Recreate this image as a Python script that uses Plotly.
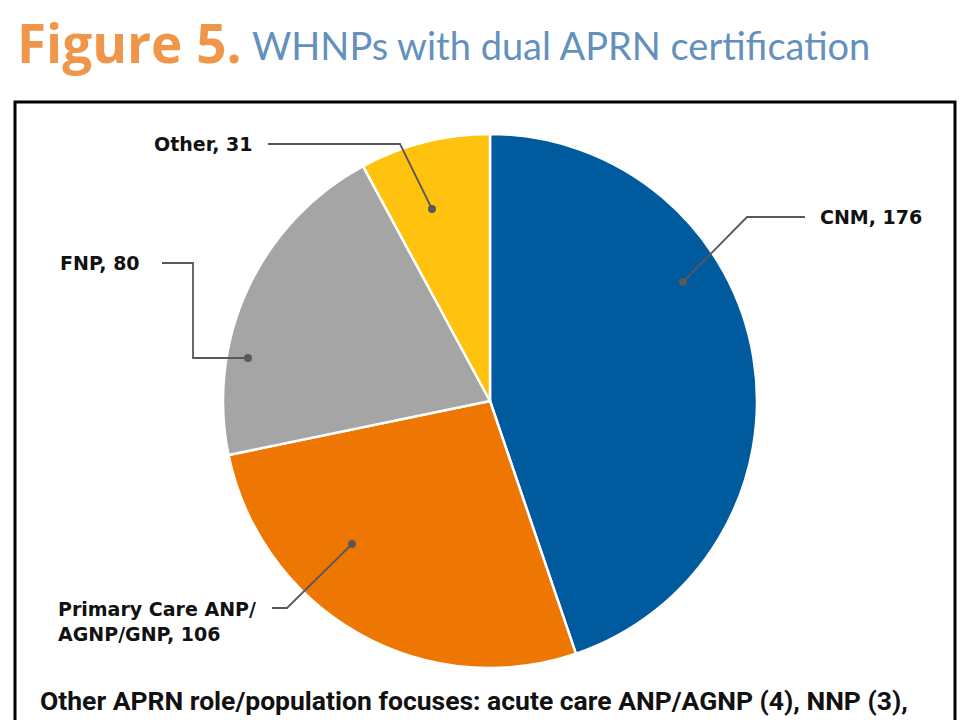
import plotly.graph_objects as go

# ---- data ----
categories = ["CNM", "Primary Care ANP/<br>AGNP/GNP", "FNP", "Other"]
values = [176, 106, 80, 31]
slice_colors = ["#005A9E", "#EE7703", "#A5A5A5", "#FFC20E"]

W, H = 970, 720

def px(x):
    return x / W

def py(y):
    return 1 - y / H

# pie placement (pixels)
cx, cy, r = 490, 401, 267

fig = go.Figure()
fig.add_trace(go.Pie(
    labels=categories, values=values, sort=False, direction="clockwise",
    rotation=0, textinfo="none", hoverinfo="label+value",
    marker=dict(colors=slice_colors, line=dict(color="white", width=2.5)),
    domain=dict(x=[px(cx - r), px(cx + r)], y=[py(cy + r), py(cy - r)]),
    showlegend=False,
))

shapes = []
annotations = []

# framing box
shapes.append(dict(type="rect", xref="paper", yref="paper",
                   x0=px(15), x1=px(955), y0=py(760), y1=py(102),
                   line=dict(color="black", width=3), fillcolor="rgba(0,0,0,0)"))

# leader lines (label layout, pixel polylines) and label text
leaders = [
    (0, [(805, 217), (747, 217), (683, 282)], 818, 217, "left"),
    (1, [(272, 608), (287, 608), (352, 544)], 56, 621, "left"),
    (2, [(162, 263), (193, 263), (193, 358), (248, 358)], 142, 263, "right"),
    (3, [(268, 144), (400, 144), (432, 209)], 255, 144, "right"),
]
lc = "#595959"
for idx, pts, tx, ty, anchor in leaders:
    path = "M " + " L ".join(f"{px(x)},{py(y)}" for x, y in pts)
    shapes.append(dict(type="path", xref="paper", yref="paper", path=path,
                       line=dict(color=lc, width=1.8)))
    dx, dy = pts[-1]
    rr = 4
    shapes.append(dict(type="circle", xref="paper", yref="paper",
                       x0=px(dx - rr), x1=px(dx + rr), y0=py(dy + rr), y1=py(dy - rr),
                       fillcolor=lc, line=dict(color=lc, width=0)))
    annotations.append(dict(
        x=px(tx), y=py(ty), xref="paper", yref="paper",
        text=f"{categories[idx]}, {values[idx]}", showarrow=False,
        xanchor=anchor, yanchor="middle", align="left",
        font=dict(family="DejaVu Sans", size=19, color="#111111", weight="bold"),
    ))

# title
annotations.append(dict(
    x=px(15), y=py(42), xref="paper", yref="paper", xanchor="left", yanchor="middle",
    showarrow=False,
    text="<b>Figure 5.</b>",
    font=dict(family="Open Sans", size=53, color="#F0964A"),
))
annotations.append(dict(
    x=px(250), y=py(45), xref="paper", yref="paper", xanchor="left", yanchor="middle",
    showarrow=False,
    text="WHNPs with dual APRN certification",
    font=dict(family="Lato", size=38, color="#6490BD"),
))

# footnote
annotations.append(dict(
    x=px(38), y=py(700), xref="paper", yref="paper", xanchor="left", yanchor="middle",
    showarrow=False,
    text="Other APRN role/population focuses: acute care ANP/AGNP (4), NNP (3),",
    font=dict(family="Roboto", size=26.5, color="#111111", weight="bold"),
))

fig.update_layout(
    width=W, height=H, margin=dict(l=0, r=0, t=0, b=0),
    paper_bgcolor="white", plot_bgcolor="white",
    shapes=shapes, annotations=annotations,
)

fig.write_html("out.html", config={"displayModeBar": False},
               post_script="document.body.style.margin='0';")
